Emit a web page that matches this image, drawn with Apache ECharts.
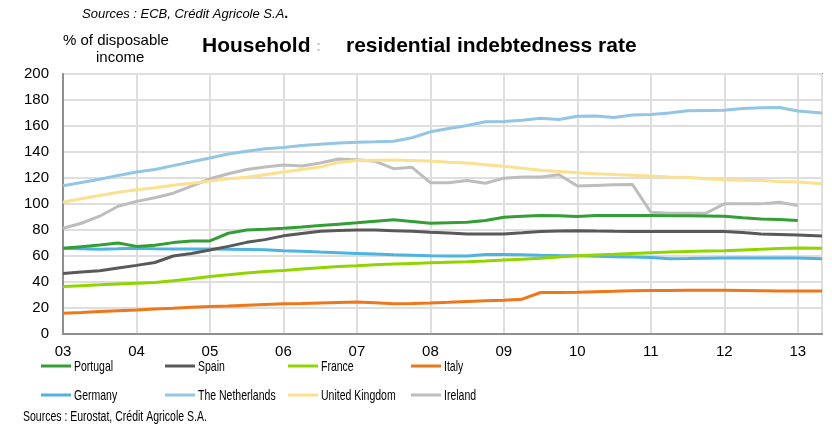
<!DOCTYPE html>
<html>
<head>
<meta charset="utf-8">
<script src="https://cdn.jsdelivr.net/npm/echarts@6/dist/echarts.min.js"></script>
<style>
  html, body { margin: 0; padding: 0; background: #fff; }
  #chart { width: 832px; height: 429px; }
</style>
</head>
<body>
<div id="chart"></div>
<script>
// Observation dates (decimal years, quarterly; latest point April 2013)
const periods = [
  2003.00, 2003.25, 2003.50, 2003.75,
  2004.00, 2004.25, 2004.50, 2004.75,
  2005.00, 2005.25, 2005.50, 2005.75,
  2006.00, 2006.25, 2006.50, 2006.75,
  2007.00, 2007.25, 2007.50, 2007.75,
  2008.00, 2008.25, 2008.50, 2008.75,
  2009.00, 2009.25, 2009.50, 2009.75,
  2010.00, 2010.25, 2010.50, 2010.75,
  2011.00, 2011.25, 2011.50, 2011.75,
  2012.00, 2012.25, 2012.50, 2012.75,
  2013.00, 2013.33
];

// Household residential debt, % of disposable income
const portugal = [
  65.9, 67.2, 68.5, 70.0, 67.4, 68.2, 70.3, 71.6, 71.6, 77.5, 80.0, 80.5,
  81.3, 82.3, 83.4, 84.5, 85.5, 86.7, 87.8, 86.5, 85.2, 85.6, 86.0, 87.3,
  89.8, 90.5, 91.1, 91.0, 90.3, 91.1, 91.1, 91.1, 91.1, 91.0, 90.9, 90.8,
  90.6, 89.5, 88.5, 88.0, 87.3, null
];
const spain = [
  46.6, 47.6, 48.6, 50.7, 52.8, 55.0, 60.0, 62.0, 64.6, 67.4, 70.5, 72.6,
  75.5, 77.3, 79.0, 79.6, 80.0, 80.0, 79.5, 79.0, 78.2, 77.6, 77.0, 77.0,
  77.0, 77.8, 78.8, 79.2, 79.5, 79.2, 79.0, 78.9, 78.8, 78.8, 78.8, 78.8,
  78.8, 78.0, 77.0, 76.6, 76.2, 75.4
];
const france = [
  36.6, 37.2, 37.8, 38.5, 39.1, 39.7, 40.9, 42.5, 44.3, 45.5, 46.9, 48.0,
  48.8, 50.0, 51.0, 52.0, 52.5, 53.2, 53.8, 54.3, 54.8, 55.2, 55.6, 56.2,
  56.9, 57.5, 58.2, 59.2, 60.2, 60.8, 61.3, 62.0, 62.5, 63.0, 63.4, 63.8,
  64.1, 64.6, 65.1, 65.7, 66.2, 66.0
];
const italy = [
  16.0, 16.6, 17.3, 17.9, 18.5, 19.3, 19.8, 20.5, 21.1, 21.6, 22.2, 22.7,
  23.2, 23.5, 23.9, 24.3, 24.7, 24.0, 23.2, 23.5, 23.9, 24.4, 25.0, 25.5,
  26.0, 26.8, 31.9, 32.0, 32.2, 32.5, 32.8, 33.2, 33.5, 33.5, 33.6, 33.7,
  33.7, 33.5, 33.3, 33.1, 33.0, 33.0
];
const germany = [
  65.9, 65.5, 65.2, 65.5, 65.9, 65.5, 65.3, 65.3, 65.3, 65.2, 65.0, 64.8,
  64.1, 63.6, 63.0, 62.5, 62.0, 61.5, 61.0, 60.6, 60.2, 60.0, 60.0, 61.2,
  61.2, 61.0, 60.5, 60.3, 60.2, 59.8, 59.5, 59.2, 58.9, 57.9, 58.0, 58.2,
  58.4, 58.4, 58.4, 58.4, 58.4, 57.9
];
const netherlands = [
  114.0, 116.5, 119.0, 122.0, 124.6, 126.5, 129.5, 132.5, 135.4, 138.5, 140.5, 142.5,
  143.5, 145.0, 146.0, 147.0, 147.5, 147.8, 148.3, 151.0, 155.5, 158.0, 160.4, 163.3,
  163.5, 164.5, 166.0, 165.0, 167.5, 167.6, 166.5, 168.5, 168.9, 170.0, 171.8, 172.0,
  172.2, 173.5, 174.0, 174.2, 171.5, 170.0
];
const unitedKingdom = [
  101.4, 104.0, 106.5, 109.0, 111.0, 112.5, 114.5, 116.0, 117.6, 119.5, 120.5, 122.5,
  124.6, 126.5, 128.4, 132.0, 133.4, 133.6, 133.8, 133.5, 133.0, 132.2, 131.5, 130.2,
  129.0, 127.5, 126.0, 125.0, 124.0, 123.3, 122.7, 122.2, 121.5, 120.8, 120.5, 119.5,
  118.7, 118.3, 118.0, 117.3, 116.9, 115.6
];
const ireland = [
  81.3, 85.2, 90.6, 98.3, 102.0, 104.8, 108.3, 113.8, 119.4, 123.3, 126.6, 128.4,
  130.0, 129.2, 131.5, 134.6, 134.1, 132.8, 127.2, 128.2, 116.4, 116.4, 118.1, 116.0,
  119.9, 120.7, 120.7, 122.5, 113.8, 114.3, 114.8, 115.0, 93.7, 92.9, 92.9, 92.9,
  100.1, 100.1, 100.1, 101.4, 98.8, null
];

const countries = ['Portugal', 'Spain', 'France', 'Italy', 'Germany', 'The Netherlands', 'United Kingdom', 'Ireland'];
const values = [portugal, spain, france, italy, germany, netherlands, unitedKingdom, ireland];
const colors = ['#339e35', '#595959', '#92d400', '#ee7719', '#4fb3e0', '#93c5e4', '#fbe08f', '#bdbdbd'];

const yTicks = { min: 0, max: 200, step: 20 };
const xTicks = { min: 2003, max: 2013.33, step: 1 };

const pairs = v => periods.map((p, i) => [p, v[i]]).filter(d => d[1] !== null);

// Pale lines first, so the darker ones are drawn over them
const drawOrder = [7, 6, 5, 4, 3, 2, 1, 0];
const series = drawOrder.map(i => ({
  name: countries[i],
  type: 'line',
  data: pairs(values[i]),
  showSymbol: false,
  symbol: 'none',
  lineStyle: { width: 3, color: colors[i] },
  itemStyle: { color: colors[i] },
  animation: false
}));

const sans = "'Liberation Sans', Arial, sans-serif";
// Condensed captions: regular face squeezed horizontally
const condensed = 0.7;

// Key: four columns, two rows, short line swatch followed by the country name
const keyCols = [41, 165, 288, 411];
const keyRows = [366, 395];
const keyItems = countries.map((c, i) => {
  const x = keyCols[i % 4];
  const y = keyRows[Math.floor(i / 4)];
  return {
    type: 'group',
    children: [
      { type: 'rect', shape: { x: x, y: y - 1.5, width: 30, height: 3 }, style: { fill: colors[i] } },
      {
        type: 'text', x: x + 33, y: y + 0.5, scaleX: condensed,
        style: { text: c, font: '15px ' + sans, fill: '#000', verticalAlign: 'middle', align: 'left' }
      }
    ]
  };
});

const chart = echarts.init(document.getElementById('chart'), null, { renderer: 'canvas' });
chart.setOption({
  animation: false,
  backgroundColor: '#fff',
  grid: {
    left: 63, right: 10, top: 74, bottom: 95,
    show: true, borderColor: '#8f8f8f', borderWidth: 2, backgroundColor: 'transparent'
  },
  xAxis: {
    type: 'value',
    min: xTicks.min, max: xTicks.max, interval: xTicks.step,
    axisLine: { show: true, lineStyle: { color: '#8f8f8f', width: 2 } },
    axisTick: { show: false },
    splitLine: { show: true, lineStyle: { color: '#dedede', width: 2 } },
    axisLabel: {
      showMaxLabel: false,
      margin: 10,
      fontFamily: sans,
      fontSize: 15, color: '#000',
      formatter: v => String(Math.round(v) % 100).padStart(2, '0')
    }
  },
  yAxis: {
    type: 'value',
    min: yTicks.min, max: yTicks.max, interval: yTicks.step,
    axisLine: { show: true, lineStyle: { color: '#8f8f8f', width: 2 } },
    axisTick: { show: false },
    splitLine: { show: true, lineStyle: { color: '#dedede', width: 2 } },
    axisLabel: { margin: 14, fontFamily: sans, fontSize: 15, color: '#000' }
  },
  series: series,
  graphic: [
    {
      type: 'text', left: 82, top: 7,
      style: {
        text: '{a|Sources : ECB, Crédit Agricole S.A}{b|.}',
        rich: {
          a: { fontFamily: sans, fontStyle: 'italic', fontSize: 13, fill: '#000', color: '#000' },
          b: { fontFamily: sans, fontWeight: 'bold', fontSize: 14, fill: '#000', color: '#000' }
        }
      }
    },
    {
      type: 'text', left: 63, top: 33,
      style: { text: '% of disposable', font: '15px ' + sans, fill: '#000' }
    },
    {
      type: 'text', left: 96, top: 50,
      style: { text: 'income', font: '15px ' + sans, fill: '#000' }
    },
    {
      type: 'text', left: 202, top: 36,
      style: { text: 'Household', font: 'bold 21px ' + sans, fill: '#000' }
    },
    {
      type: 'text', left: 316, top: 39,
      style: { text: ':', font: 'bold 15px ' + sans, fill: '#c8c8c8' }
    },
    {
      type: 'text', left: 346, top: 36,
      style: { text: 'residential indebtedness rate', font: 'bold 21px ' + sans, fill: '#000' }
    },
    ...keyItems,
    {
      type: 'text', x: 23, y: 417, scaleX: condensed,
      style: { text: 'Sources : Eurostat, Crédit Agricole S.A.', font: '15px ' + sans, fill: '#000', verticalAlign: 'middle' }
    }
  ]
});
</script>
</body>
</html>
